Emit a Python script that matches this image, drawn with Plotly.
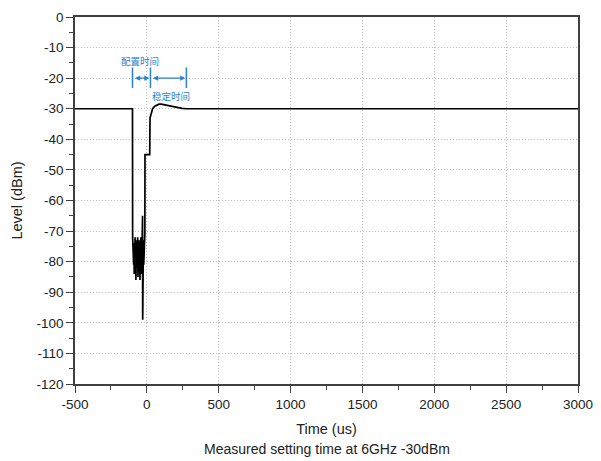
import plotly.graph_objects as go

# ---- data ----
time_us = [-500, -100, -99, -96, -94, -92, -90, -88, -86, -84, -82, -80, -78, -76, -74,
           -72, -70, -68, -66, -64, -62, -60, -58, -56, -54, -52, -50, -48, -46, -44,
           -42, -40, -38, -36, -34, -32, -30, -29, -28, -26, -24, -22, -20, -18, -16,
           -14, -13, 20, 22, 30, 40, 55, 70, 85, 100, 120, 145, 175, 210, 245, 275, 3000]
level_dbm = [-30, -30, -72, -78, -73, -81, -74, -84, -76, -79, -72, -83, -75, -86, -77,
             -73, -82, -75, -80, -72, -85, -76, -79, -74, -83, -73, -78, -86, -75, -81,
             -72, -80, -76, -84, -74, -79, -65, -99, -78, -84, -73, -81, -76, -80, -72,
             -71, -45, -45, -33, -31.5, -30, -29.2, -28.7, -28.5, -28.5, -28.7, -29.0, -29.4, -29.7, -29.9, -30, -30]

x_ticks = [-500, 0, 500, 1000, 1500, 2000, 2500, 3000]
x_tick_labels = ["-500", "0", "500", "1000", "1500", "2000", "2500", "3000"]
y_ticks = list(range(0, -121, -10))
y_tick_labels = [str(v) for v in y_ticks]

# annotation markers (configuration time / settling time)
marker_times = [-100, 25, 275]
marker_level = -20
label_config = "配置时间"
label_settle = "稳定时间"

title_text = "Measured setting time at 6GHz -30dBm"
x_title = "Time (us)"
y_title = "Level (dBm)"

blue = "#2a7fd0"
font_family = "Liberation Sans, Arial, sans-serif"
cjk_font = "Noto Sans CJK SC"

fig = go.Figure()
fig.add_trace(go.Scatter(x=time_us, y=level_dbm, mode="lines",
                         line=dict(color="black", width=1.7), showlegend=False,
                         hoverinfo="skip"))

shapes = []
for t in marker_times:
    shapes.append(dict(type="line", xref="x", yref="y", x0=t, x1=t,
                       y0=marker_level + 3.5, y1=marker_level - 3.2,
                       line=dict(color=blue, width=1.5)))

annotations = []
for a, b in [(marker_times[0], marker_times[1]), (marker_times[1], marker_times[2])]:
    annotations.append(dict(x=b, y=marker_level, ax=a, ay=marker_level,
                            xref="x", yref="y", axref="x", ayref="y", text="",
                            showarrow=True, arrowhead=2, arrowside="end+start",
                            arrowsize=0.8, arrowwidth=1.3, arrowcolor=blue,
                            standoff=1, startstandoff=1))
annotations.append(dict(x=-50, y=-14.3, xref="x", yref="y", text=label_config,
                        showarrow=False, yanchor="middle",
                        font=dict(family=cjk_font, size=9.5, color=blue)))
annotations.append(dict(x=170, y=-25.7, xref="x", yref="y", text=label_settle,
                        showarrow=False, yanchor="middle",
                        font=dict(family=cjk_font, size=9.5, color=blue)))
annotations.append(dict(x=0.5, y=-0.178, xref="paper", yref="paper", text=title_text,
                        showarrow=False, yanchor="middle", xanchor="center",
                        font=dict(family=font_family, size=14, color="#222")))

axis_common = dict(showline=True, linecolor="#404040", linewidth=1.5, mirror=True,
                   ticks="outside", ticklen=7, tickwidth=1.3, tickcolor="#404040",
                   showgrid=True, gridcolor="#bdbdbd", griddash="1px,2px", gridwidth=1,
                   zeroline=False, automargin=False,
                   tickfont=dict(family=font_family, size=13.5, color="#222"))

fig.update_layout(
    width=601, height=461,
    margin=dict(l=75, r=23, t=17, b=77),
    paper_bgcolor="white", plot_bgcolor="white",
    font=dict(family=font_family, color="#222"),
    shapes=shapes, annotations=annotations,
    xaxis=dict(range=[-500, 3000], tickmode="array", tickvals=x_ticks,
               ticktext=x_tick_labels,
               title=dict(text=x_title, font=dict(size=14.5), standoff=13),
               minor=dict(ticks="outside", ticklen=4, dtick=250, tick0=-500,
                          tickcolor="#404040", showgrid=False),
               **axis_common),
    yaxis=dict(range=[-120, 0], tickmode="array", tickvals=y_ticks,
               ticktext=y_tick_labels,
               title=dict(text=y_title, font=dict(size=14.5), standoff=10),
               minor=dict(ticks="outside", ticklen=4, dtick=5, tick0=0,
                          tickcolor="#404040", showgrid=False),
               **axis_common),
)

fig.write_html("out.html", config={"displayModeBar": False},
               post_script="document.body.style.margin='0';document.body.style.overflow='hidden';")
